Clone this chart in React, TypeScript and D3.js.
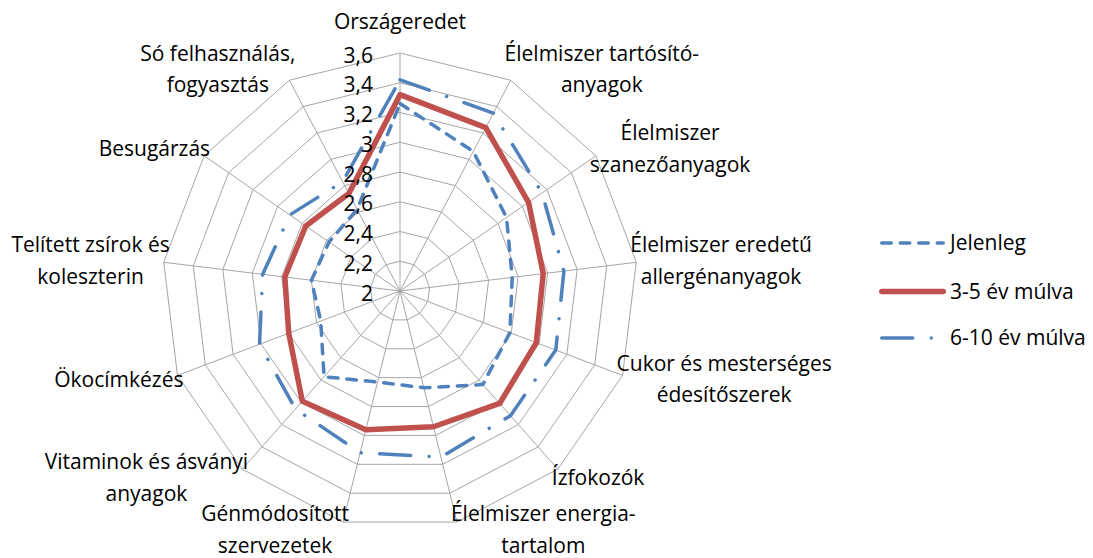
import React, { useEffect, useRef } from "react";
import * as d3 from "d3";

// ---- data ----
const categories: string[][] = [
  ["Országeredet"],
  ["Élelmiszer tartósító-", "anyagok"],
  ["Élelmiszer", "szanezőanyagok"],
  ["Élelmiszer eredetű", "allergénanyagok"],
  ["Cukor és mesterséges", "édesítőszerek"],
  ["Ízfokozók"],
  ["Élelmiszer energia-", "tartalom"],
  ["Génmódosított", "szervezetek"],
  ["Vitaminok és ásványi", "anyagok"],
  ["Ökocímkézés"],
  ["Telített zsírok és", "koleszterin"],
  ["Besugárzás"],
  ["Só felhasználás,", "fogyasztás"],
];
const jelenleg = [3.26, 3.06, 2.87, 2.76, 2.79, 2.84, 2.67, 2.63, 2.77, 2.57, 2.6, 2.58, 2.62];
const ev3_5 = [3.32, 3.24, 3.05, 2.97, 2.98, 3.01, 2.94, 2.96, 2.99, 2.8, 2.78, 2.77, 2.74];
const ev6_10 = [3.42, 3.35, 3.16, 3.11, 3.12, 3.12, 3.15, 3.12, 3.06, 3.01, 2.93, 2.9, 2.83];
const tickValues = [2, 2.2, 2.4, 2.6, 2.8, 3, 3.2, 3.4, 3.6];
const tickLabels = ["2", "2,2", "2,4", "2,6", "2,8", "3", "3,2", "3,4", "3,6"];
const seriesNames = ["Jelenleg", "3-5 év múlva", "6-10 év múlva"];

// ---- layout / style ----
const W = 1093;
const H = 558;
const CX = 400;
const CY = 291;
const R = 238;
const FONT = "'Open Sans', sans-serif";
const FS = 21;
const LINE_H = 31.5;
const BLUE = "#4f81bd";
const RED = "#c0504d";
const GRID = "#a6a6a6";

const seriesStyles = [
  { color: BLUE, width: 3.5, dash: "9.5,9" },
  { color: RED, width: 5.5, dash: null as string | null },
  { color: BLUE, width: 3.5, dash: "31,18.5,0.01,18.5" },
];

export default function App() {
  const ref = useRef<SVGSVGElement>(null);

  useEffect(() => {
    const svg = d3.select(ref.current!);
    svg.selectAll("*").remove();
    const n = categories.length;
    const r = d3.scaleLinear().domain([tickValues[0], tickValues[tickValues.length - 1]]).range([0, R]);
    const angle = (i: number) => (i * 2 * Math.PI) / n;

    svg.append("rect").attr("width", W).attr("height", H).attr("fill", "#fff");
    const g = svg.append("g").attr("transform", `translate(${CX},${CY})`);

    const radial = d3
      .lineRadial<number>()
      .angle((_, i) => angle(i))
      .radius((d) => r(d))
      .curve(d3.curveLinearClosed);

    // rings
    tickValues.slice(1).forEach((t) => {
      g.append("path")
        .attr("d", radial(categories.map(() => t)) as string)
        .attr("fill", "none")
        .attr("stroke", GRID)
        .attr("stroke-width", 1);
    });
    // spokes
    categories.forEach((_, i) => {
      const a = angle(i);
      g.append("line")
        .attr("x1", 0)
        .attr("y1", 0)
        .attr("x2", R * Math.sin(a))
        .attr("y2", -R * Math.cos(a))
        .attr("stroke", GRID)
        .attr("stroke-width", 1);
    });

    // series
    [jelenleg, ev3_5, ev6_10].forEach((vals, k) => {
      const st = seriesStyles[k];
      const p = g
        .append("path")
        .attr("d", radial(vals) as string)
        .attr("fill", "none")
        .attr("stroke", st.color)
        .attr("stroke-width", st.width)
        .attr("stroke-linejoin", "round")
        .attr("stroke-linecap", "round");
      if (st.dash) p.attr("stroke-dasharray", st.dash);
    });

    // tick labels
    tickValues.forEach((t, i) => {
      g.append("text")
        .attr("x", -27)
        .attr("y", -r(t) + 2 + 7.5)
        .attr("text-anchor", "end")
        .attr("font-family", FONT)
        .attr("font-size", FS)
        .attr("fill", "#000")
        .text(tickLabels[i]);
    });

    // category labels
    categories.forEach((lines, i) => {
      const a = angle(i);
      const s = Math.sin(a);
      const c = Math.cos(a);
      const vx = CX + R * s;
      const vy = CY - R * c;
      const texts = lines.map((ln) =>
        svg
          .append("text")
          .attr("font-family", FONT)
          .attr("font-size", FS)
          .attr("fill", "#000")
          .attr("text-anchor", "middle")
          .text(ln)
      );
      const w = d3.max(texts, (t) => (t.node() as SVGTextElement).getComputedTextLength()) || 0;
      const h = lines.length * LINE_H;
      let cx: number;
      let cy: number;
      if (Math.abs(s) < 0.05) {
        cx = vx;
        cy = vy - h / 2 - 15.5;
      } else {
        cx = vx + Math.sign(s) * (w / 2 - 6);
        cy = vy - c * 12;
      }
      // keep the last line (incl. descenders) inside the picture
      const lastBaseline = cy - h / 2 + LINE_H * (lines.length - 1) + LINE_H / 2 + 7;
      const maxBaseline = H - FS * 0.26;
      if (lastBaseline > maxBaseline) cy -= lastBaseline - maxBaseline;
      texts.forEach((t, k) => {
        const lineCenter = cy - h / 2 + LINE_H * k + LINE_H / 2;
        t.attr("x", cx).attr("y", lineCenter + 7);
      });
    });

    // legend
    const legendY = [243, 291.5, 338];
    seriesNames.forEach((name, k) => {
      const st = seriesStyles[k];
      const y = legendY[k];
      const l = svg
        .append("line")
        .attr("x1", 881.75)
        .attr("x2", 943.25)
        .attr("y1", y)
        .attr("y2", y)
        .attr("stroke", st.color)
        .attr("stroke-width", st.width)
        .attr("stroke-linecap", "round");
      if (st.dash) l.attr("stroke-dasharray", st.dash);
      svg
        .append("text")
        .attr("x", 950)
        .attr("y", y + 7.4)
        .attr("font-family", FONT)
        .attr("font-size", FS)
        .attr("fill", "#000")
        .text(name);
    });
  }, []);

  return (
    <svg
      ref={ref}
      width={W}
      height={H}
      style={{ position: "absolute", left: 0, top: 0, display: "block" }}
    />
  );
}
